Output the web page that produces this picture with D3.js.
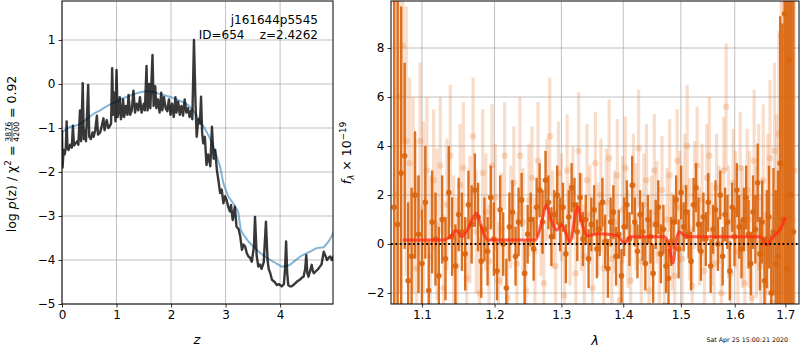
<!DOCTYPE html>
<html>
<head>
<meta charset="utf-8">
<script src="https://cdn.jsdelivr.net/npm/d3@7"></script>
<style>
  body { margin: 0; background: #fff; }
  svg { display: block; font-family: "DejaVu Sans", sans-serif; }
</style>
</head>
<body>
<div id="chart"></div>
<script>
// ---- left panel: log p(z) ----
const pzTicksX = [0, 1, 2, 3, 4];
const pzTicksY = [-5, -4, -3, -2, -1, 0, 1];
// [z, log p(z)] for the fit (dark) and prior-ish smooth curve (blue)
const pzFit = [[0.00,-1.05],[0.01,-1.9],[0.03,-1.5],[0.05,-1.6],[0.07,-1.45],[0.085,-0.85],[0.1,-1.45],[0.12,-1.5],[0.15,-1.38],[0.18,-1.45],[0.2,-0.95],[0.22,-1.4],[0.25,-1.35],[0.28,-1.3],[0.3,-1.38],[0.33,-0.6],[0.35,-1.3],[0.38,0.02],[0.4,-1.25],[0.42,-1.05],[0.44,-1.3],[0.48,-0.02],[0.5,-1.2],[0.53,-1.25],[0.56,-1.1],[0.58,-1.2],[0.61,-1.05],[0.64,-0.72],[0.66,-1.15],[0.7,-1.1],[0.73,-0.95],[0.76,-0.78],[0.78,-1.05],[0.82,-0.82],[0.85,-1.0],[0.88,-0.95],[0.9,-0.9],[0.92,0.36],[0.94,-0.7],[0.96,-0.2],[0.98,-0.85],[1.0,0.32],[1.02,-0.75],[1.04,-0.6],[1.06,-0.3],[1.08,-0.8],[1.1,-0.7],[1.12,-0.35],[1.14,-0.75],[1.17,-0.5],[1.2,-0.7],[1.22,-0.25],[1.25,-0.7],[1.28,-0.6],[1.31,-0.15],[1.34,-0.65],[1.37,-0.45],[1.4,-0.6],[1.43,-0.3],[1.46,-0.65],[1.5,-0.45],[1.52,-0.6],[1.55,0.41],[1.57,-0.6],[1.6,0.0],[1.62,-0.55],[1.66,0.66],[1.68,-0.5],[1.71,-0.05],[1.73,-0.55],[1.76,-0.35],[1.79,-0.65],[1.82,-0.2],[1.84,-0.6],[1.87,-0.3],[1.9,-0.55],[1.93,-0.62],[1.96,-0.35],[1.99,-0.7],[2.02,-0.45],[2.05,-0.75],[2.08,-0.3],[2.1,-0.65],[2.13,-0.4],[2.16,-0.7],[2.19,-0.5],[2.22,-0.72],[2.25,-0.35],[2.28,-0.65],[2.31,-0.55],[2.34,-0.75],[2.37,-0.6],[2.39,-0.8],[2.42,1.0],[2.45,-0.5],[2.47,-1.2],[2.5,-0.8],[2.53,-0.9],[2.55,-0.29],[2.57,-1.1],[2.59,-1.35],[2.62,-1.2],[2.65,-1.84],[2.68,-1.6],[2.72,-1.87],[2.75,-0.97],[2.78,-1.7],[2.81,-1.5],[2.84,-1.95],[2.87,-2.2],[2.9,-2.48],[2.93,-2.4],[2.96,-2.71],[2.99,-2.55],[3.02,-2.64],[3.05,-2.8],[3.08,-2.9],[3.1,-2.75],[3.13,-3.09],[3.17,-2.79],[3.2,-3.24],[3.24,-3.3],[3.27,-3.47],[3.3,-3.77],[3.33,-3.65],[3.36,-3.7],[3.39,-3.85],[3.42,-3.92],[3.45,-3.95],[3.48,-4.04],[3.52,-3.7],[3.54,-3.02],[3.57,-3.9],[3.6,-4.15],[3.63,-4.1],[3.66,-4.2],[3.7,-4.05],[3.74,-3.13],[3.77,-4.0],[3.79,-4.2],[3.82,-4.3],[3.85,-4.45],[3.9,-4.5],[3.94,-4.57],[3.98,-4.55],[4.03,-4.6],[4.07,-4.55],[4.09,-4.2],[4.11,-3.58],[4.13,-4.3],[4.15,-4.57],[4.18,-4.6],[4.21,-4.6],[4.26,-4.55],[4.31,-4.49],[4.36,-4.45],[4.4,-4.4],[4.43,-4.38],[4.46,-4.2],[4.48,-3.89],[4.5,-4.3],[4.52,-4.38],[4.55,-4.25],[4.58,-4.11],[4.6,-4.25],[4.62,-4.3],[4.66,-4.25],[4.7,-4.2],[4.73,-4.15],[4.76,-4.1],[4.8,-3.81],[4.83,-3.9],[4.86,-4.0],[4.89,-3.95],[4.92,-3.92],[4.95,-4.0],[4.99,-3.89]];
const pzSmooth = [[0,-1.1],[0.05,-1.05],[0.15,-0.97],[0.3,-0.93],[0.4,-0.85],[0.5,-0.75],[0.6,-0.66],[0.7,-0.6],[0.8,-0.52],[0.9,-0.45],[1.0,-0.4],[1.1,-0.33],[1.2,-0.29],[1.3,-0.24],[1.4,-0.2],[1.5,-0.17],[1.6,-0.17],[1.7,-0.19],[1.8,-0.23],[1.9,-0.26],[2.0,-0.3],[2.1,-0.35],[2.2,-0.4],[2.3,-0.47],[2.4,-0.59],[2.5,-0.78],[2.6,-0.97],[2.7,-1.2],[2.8,-1.5],[2.9,-1.88],[2.96,-2.26],[3.05,-2.56],[3.14,-2.71],[3.23,-2.9],[3.28,-3.32],[3.33,-3.43],[3.42,-3.58],[3.51,-3.7],[3.6,-3.8],[3.69,-3.89],[3.78,-3.97],[3.88,-4.04],[3.96,-4.1],[4.03,-4.15],[4.1,-4.14],[4.18,-4.11],[4.27,-4.02],[4.37,-3.92],[4.46,-3.86],[4.55,-3.81],[4.67,-3.73],[4.8,-3.71],[4.89,-3.58],[4.95,-3.45],[4.99,-3.32]];

// ---- right panel: spectrum ----
const specTicksX = [1.1, 1.2, 1.3, 1.4, 1.5, 1.6, 1.7];
const specTicksY = [-2, 0, 2, 4, 6, 8];
// regular pixel grid in wavelength (micron)
const gridA = {start: 1.064, step: 0.0045};
const gridB = {start: 1.066, step: 0.0045};
const fluxA = [1.5,0.8,2.9,3.6,
  -1.5,-0.5,2.0,0.4,-0.8,1.7,-1.9,0.9,
  0.2,-1.3,1.0,-0.6,2.1,0.3,-0.9,1.2,
  0.5,-0.4,1.6,0.8,2.2,1.1,-0.7,0.6,
  -0.3,1.9,0.2,-1.1,1.4,0.0,-1.8,0.7,
  1.3,-0.5,0.9,1.8,-1.2,0.4,1.0,-0.2,
  1.5,2.2,0.9,2.6,1.7,0.3,1.2,2.0,
  0.8,1.5,-0.4,1.1,2.3,1.6,0.5,1.9,
  0.2,1.0,-0.6,0.8,1.4,-0.2,0.6,1.7,
  0.1,-1.0,0.9,1.3,-0.5,0.4,-1.3,0.7,
  1.6,0.2,2.4,0.9,-0.3,1.2,0.5,-0.8,
  1.0,0.3,-1.2,0.8,1.5,-0.4,0.6,-0.9,
  -1.4,0.1,0.9,1.8,-0.2,2.1,0.7,1.3,
  0.4,-0.7,1.6,2.3,0.8,-0.3,1.1,0.2,
  1.7,-0.9,0.6,1.4,0.0,2.0,-0.5,1.2,
  0.9,-1.1,1.5,0.3,2.2,0.7,-0.2,1.0,
  1.9,0.4,-0.8,1.3,0.6,2.5,-0.4,0.9,
  -1.5,0.2,1.1,-2.0,0.5,-0.8,
  -0.5,3.3,1.0,9.4,-1.0,7.5,2.0,0.5];
const errA = [14,14,6.8,3.8,
  3.2,2.8,2.6,2.4,2.2,2.3,2.0,2.1,
  1.9,2.0,1.8,1.7,1.9,1.6,1.7,1.5,
  1.6,1.5,1.4,1.6,1.5,1.4,1.5,1.3,
  1.4,1.3,1.5,1.2,1.4,1.3,1.2,1.4,
  1.3,1.2,1.4,1.1,1.3,1.2,1.1,1.3,
  1.2,1.1,1.3,1.2,1.1,1.2,1.0,1.2,
  1.1,1.0,1.2,1.1,1.0,1.1,1.2,1.0,
  1.1,1.0,1.2,1.1,1.0,1.2,1.1,1.0,
  1.1,1.2,1.0,1.1,1.2,1.0,1.1,1.2,
  1.0,1.1,1.2,1.0,1.1,1.0,1.2,1.1,
  1.0,1.1,1.2,1.0,1.1,1.2,1.0,1.1,
  1.2,1.0,1.1,1.0,1.2,1.1,1.0,1.1,
  1.0,1.2,1.1,1.0,1.1,1.2,1.0,1.1,
  1.2,1.1,1.0,1.2,1.1,1.0,1.2,1.1,
  1.1,1.2,1.0,1.2,1.1,1.3,1.2,1.3,
  1.3,1.4,1.3,1.5,1.4,1.6,1.5,1.7,
  1.8,2.0,2.1,2.4,2.6,3.0,
  3.5,6.0,8.0,12,14,15,16,16];
const fluxB = [2.0,6.0,8.1,4.2,
  3.3,2.0,-1.0,4.2,1.5,3.0,-0.5,2.6,
  0.8,3.2,-1.8,1.6,3.6,0.2,-0.9,2.4,
  3.1,-1.4,1.0,4.4,0.5,-2.0,2.9,1.3,
  -0.7,3.2,1.9,-1.5,0.6,3.6,-2.2,1.1,
  2.5,-0.8,3.6,0.9,-1.9,1.8,2.7,-0.3,
  3.4,0.7,-1.6,2.2,4.4,1.0,-0.9,2.9,
  1.5,-2.1,3.0,0.4,2.1,-1.2,3.8,0.9,
  -0.5,2.6,1.2,-1.8,3.3,0.6,2.0,-1.0,
  1.7,3.5,-0.6,0.9,2.8,-2.3,1.4,3.1,
  0.2,-1.5,2.4,1.1,3.9,-0.7,1.6,2.6,
  -1.9,0.8,3.0,1.3,-0.4,2.2,-2.5,1.0,
  2.8,0.1,-1.3,3.4,1.5,-0.6,2.3,4.0,
  0.6,-1.7,2.0,3.2,0.3,1.8,-1.1,2.7,
  3.6,0.4,-0.8,2.3,1.2,-2.0,3.0,5.6,
  0.9,-1.2,2.5,1.4,-0.3,3.1,0.7,-1.6,
  2.2,1.0,-2.2,3.4,0.5,1.9,-0.9,2.6,
  -1.7,1.2,3.5,-2.4,3.8,1.5,
  4.5,8.5,7.0,3.2,2.0,6.0,1.0,3.0];
const errB = [10,8,4,5.5,
  3.5,4.0,3.8,3.2,3.5,3.0,3.3,2.9,
  3.1,2.8,3.0,2.7,2.9,2.6,2.8,2.5,
  2.7,2.4,2.6,2.4,2.5,2.3,2.6,2.4,
  2.3,2.5,2.2,2.4,2.3,2.2,2.4,2.1,
  2.3,2.1,2.4,2.2,2.0,2.3,2.1,2.2,
  2.4,2.0,2.2,2.1,2.4,2.0,2.3,2.1,
  2.2,2.0,2.3,2.1,1.9,2.2,2.4,2.0,
  2.1,2.3,2.0,2.2,2.1,1.9,2.3,2.0,
  2.2,2.4,2.0,2.1,2.3,2.0,2.2,2.1,
  2.0,2.3,2.1,2.2,2.4,2.0,2.1,2.3,
  2.2,2.0,2.3,2.1,2.0,2.2,2.4,2.1,
  2.3,2.0,2.2,2.1,2.3,2.0,2.2,2.5,
  2.1,2.3,2.2,2.4,2.0,2.3,2.1,2.2,
  2.4,2.1,2.3,2.2,2.0,2.4,2.2,2.6,
  2.3,2.5,2.2,2.4,2.6,2.3,2.5,2.7,
  2.5,2.8,2.6,2.9,2.7,3.0,2.8,3.1,
  3.0,3.3,3.2,3.5,3.6,3.8,
  4.2,5.0,6.0,6.5,7.0,8.0,9.0,10];
// template model [lambda, flux]
const modelLam = [1.075,1.10,1.128,1.138,1.146,1.154,1.162,1.1745,1.183,1.191,1.22,1.26,1.268,1.277,1.285,1.2927,1.3004,1.3134,1.3256,1.333,1.340,1.36,1.39,1.4017,1.412,1.44,1.47,1.478,1.4855,1.492,1.497,1.51,1.55,1.6,1.65,1.663,1.675,1.69,1.70];
const modelFlux = [0.16,0.16,0.16,0.3,0.55,0.3,0.6,1.25,0.5,0.16,0.16,0.16,0.7,1.59,0.9,0.57,0.78,0.1,1.52,0.8,0.33,0.42,0.35,0.03,0.3,0.3,0.3,0.0,-0.78,0.2,0.5,0.3,0.3,0.3,0.3,-0.04,0.3,0.6,1.09];

const fitName = "j161644p5545";
const fitId = "ID=654    z=2.4262";
const stamp = "Sat Apr 25 15:00:21 2020";

const W = 800, H = 350;
const font = "DejaVu Sans";
const gridColor = "#b0b0b0";
const darkOrange = "#d9650e";
const lightOrange = "#e8792a";

const svg = d3.select("#chart").append("svg")
  .attr("width", W).attr("height", H);
svg.append("rect").attr("width", W).attr("height", H).attr("fill", "#fff");

const defs = svg.append("defs");

function panel(id, x, y, xTicks, yTicks, xFmt) {
  const [x0, x1] = x.range(), [y0, y1] = y.range();
  defs.append("clipPath").attr("id", id)
    .append("rect").attr("x", x0).attr("y", y1).attr("width", x1 - x0).attr("height", y0 - y1);
  const g = svg.append("g");
  // grid
  g.append("g").selectAll("line").data(xTicks).join("line")
    .attr("x1", d => x(d)).attr("x2", d => x(d)).attr("y1", y1).attr("y2", y0)
    .attr("stroke", gridColor).attr("stroke-width", 0.8);
  g.append("g").selectAll("line").data(yTicks).join("line")
    .attr("y1", d => y(d)).attr("y2", d => y(d)).attr("x1", x0).attr("x2", x1)
    .attr("stroke", gridColor).attr("stroke-width", 0.8);
  const data = g.append("g").attr("clip-path", `url(#${id})`);
  const top = svg.append("g");
  // axes
  const ax = top.append("g").attr("transform", `translate(0,${y0})`)
    .call(d3.axisBottom(x).tickValues(xTicks).tickFormat(xFmt || d3.format("d"))
      .tickSize(3.5).tickSizeOuter(0).tickPadding(3));
  const ay = top.append("g").attr("transform", `translate(${x0},0)`)
    .call(d3.axisLeft(y).tickValues(yTicks).tickFormat(d3.format("d"))
      .tickSize(3.5).tickSizeOuter(0).tickPadding(3));
  [ax, ay].forEach(a => {
    a.select(".domain").remove();
    a.selectAll("text").attr("font-family", font).attr("font-size", 12).attr("fill", "#000");
    a.selectAll("line").attr("stroke", "#000").attr("stroke-width", 0.8);
  });
  top.append("rect").attr("x", x0).attr("y", y1).attr("width", x1 - x0).attr("height", y0 - y1)
    .attr("fill", "none").attr("stroke", "#000").attr("stroke-width", 1);
  return {data, top};
}

// ---------- left ----------
const xL = d3.scaleLinear().domain([0, 4.97]).range([62, 333]);
const yL = d3.scaleLinear().domain([-5, 1.886]).range([304, 1]);
const left = panel("clipL", xL, yL, pzTicksX, pzTicksY);

const lineL = d3.line().x(d => xL(d[0])).y(d => yL(d[1]));
left.data.append("path").datum(pzSmooth).attr("d", lineL)
  .attr("fill", "none").attr("stroke", "#1f77b4").attr("stroke-opacity", 0.55).attr("stroke-width", 2);
left.data.append("path").datum(pzFit).attr("d", lineL)
  .attr("fill", "none").attr("stroke", "#000").attr("stroke-opacity", 0.78)
  .attr("stroke-width", 2.4).attr("stroke-linejoin", "round");

svg.append("text").attr("x", 318).attr("y", 24).attr("text-anchor", "end")
  .attr("font-family", font).attr("font-size", 12).text(fitName);
svg.append("text").attr("x", 318).attr("y", 39).attr("text-anchor", "end")
  .attr("font-family", font).attr("font-size", 12).style("white-space", "pre").text(fitId);

svg.append("text").attr("x", 197).attr("y", 344).attr("text-anchor", "middle")
  .attr("font-family", font).attr("font-size", 13).attr("font-style", "italic").text("z");

// rotated label built piece by piece
function richLabel(g, pieces, size) {
  let cx = 0;
  pieces.forEach(p => {
    if (p.frac) {
      const fs = size * 0.62;
      const a = g.append("text").attr("x", cx).attr("y", -5.5).attr("font-size", fs).text(p.frac[0]);
      const b = g.append("text").attr("x", cx).attr("y", 2.5).attr("font-size", fs).text(p.frac[1]);
      const w = Math.max(a.node().getComputedTextLength(), b.node().getComputedTextLength());
      g.append("line").attr("x1", cx).attr("x2", cx + w).attr("y1", -4).attr("y2", -4)
        .attr("stroke", "#000").attr("stroke-width", 0.7);
      cx += w;
    } else {
      const t = g.append("text").attr("x", cx).attr("y", p.dy || 0)
        .attr("font-size", p.size ? size * p.size : size)
        .attr("font-style", p.italic ? "italic" : null)
        .style("white-space", "pre").text(p.t);
      cx += t.node().getComputedTextLength();
    }
  });
  g.attr("font-family", font);
  g.selectAll("text,line").attr("transform", `translate(${-cx / 2},0)`);
}

richLabel(svg.append("g").attr("transform", "translate(16,154) rotate(-90)"), [
  {t: "log "}, {t: "p", italic: true}, {t: "(z) / χ"}, {t: "2", size: 0.7, dy: -5},
  {t: " = "}, {frac: ["3876", "4200"]}, {t: " = 0.92"}
], 12.5);

// ---------- right ----------
const xR = d3.scaleLog().domain([1.06, 1.728]).range([391, 799]);
const yR = d3.scaleLinear().domain([-2.45, 9.92]).range([304, 1]);
const right = panel("clipR", xR, yR, specTicksX, specTicksY, d3.format(".1f"));

const ptsA = fluxA.map((f, i) => ({lam: gridA.start + gridA.step * i, f, e: errA[i]}));
const ptsB = fluxB.map((f, i) => ({lam: gridB.start + gridB.step * i, f, e: errB[i]}));

function errorbars(g, pts, color, op, bw, r) {
  g.append("g").selectAll("line").data(pts).join("line")
    .attr("x1", d => xR(d.lam)).attr("x2", d => xR(d.lam))
    .attr("y1", d => yR(d.f - d.e)).attr("y2", d => yR(d.f + d.e))
    .attr("stroke", color).attr("stroke-opacity", op).attr("stroke-width", bw);
  g.append("g").selectAll("circle").data(pts).join("circle")
    .attr("cx", d => xR(d.lam)).attr("cy", d => yR(d.f)).attr("r", r)
    .attr("fill", color).attr("fill-opacity", op);
}
errorbars(right.data, ptsB, lightOrange, 0.25, 3.2, 3.2);
errorbars(right.data, ptsA, darkOrange, 0.92, 2.4, 2.8);

right.data.append("path")
  .datum(modelLam.map((l, i) => [l, modelFlux[i]]))
  .attr("d", d3.line().x(d => xR(d[0])).y(d => yR(d[1])).curve(d3.curveMonotoneX))
  .attr("fill", "none").attr("stroke", "#ff2a14").attr("stroke-opacity", 0.75)
  .attr("stroke-width", 3).attr("stroke-linejoin", "round");

right.data.append("line").attr("x1", 391).attr("x2", 799).attr("y1", yR(0)).attr("y2", yR(0))
  .attr("stroke", "#000").attr("stroke-width", 1.8).attr("stroke-dasharray", "1.8,2.6");

svg.append("text").attr("x", 595).attr("y", 345).attr("text-anchor", "middle")
  .attr("font-family", font).attr("font-size", 13).attr("font-style", "italic").text("λ");

richLabel(svg.append("g").attr("transform", "translate(351,153) rotate(-90)"), [
  {t: "f", italic: true}, {t: "λ", italic: true, size: 0.7, dy: 3},
  {t: " × 10"}, {t: "−19", size: 0.7, dy: -5}
], 12.5);

svg.append("text").attr("x", 788).attr("y", 342).attr("text-anchor", "end")
  .attr("font-family", font).attr("font-size", 6.3).text(stamp);
</script>
</body>
</html>
